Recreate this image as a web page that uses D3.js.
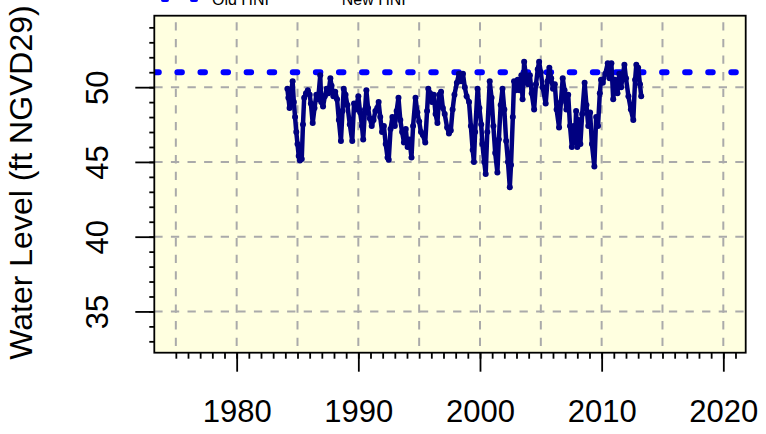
<!DOCTYPE html>
<html><head><meta charset="utf-8">
<script src="https://cdn.jsdelivr.net/npm/d3@7"></script>
<style>
body{margin:0;background:#fff}
svg{display:block}
text{font-family:"Liberation Sans",Arial,sans-serif;fill:#000}
</style>
</head><body>
<svg id="c" width="766" height="434"></svg>
<script>
// ---------------- data ----------------
const years = [
1984.17,1984.25,1984.35,1984.45,1984.6,1984.7,1984.8,1984.9,1985.0,1985.1,1985.2,1985.35,1985.45,1985.55,1985.7,1985.85,
1986.0,1986.1,1986.25,1986.4,1986.55,1986.7,1986.87,1986.95,1987.1,1987.25,1987.4,1987.55,1987.7,1987.8,1987.95,
1988.1,1988.25,1988.4,1988.57,1988.7,1988.8,1988.95,1989.1,1989.3,1989.5,1989.65,1989.8,
1990.0,1990.15,1990.3,1990.4,1990.55,1990.66,1990.8,1990.95,1991.1,1991.25,1991.4,1991.55,1991.67,1991.8,1991.95,
1992.1,1992.25,1992.4,1992.5,1992.65,1992.8,1993.0,1993.15,1993.3,1993.45,1993.6,1993.75,1993.9,
1994.05,1994.2,1994.37,1994.5,1994.7,1994.85,1995.0,1995.15,1995.3,1995.5,1995.65,1995.75,1995.9,
1996.05,1996.2,1996.35,1996.5,1996.65,1996.8,1996.95,1997.1,1997.3,1997.45,1997.6,1997.75,1997.9,
1998.1,1998.27,1998.45,1998.6,1998.75,1998.9,1999.1,1999.25,1999.4,1999.5,1999.6,1999.8,1999.95,
2000.1,2000.2,2000.35,2000.47,2000.6,2000.8,2000.95,2001.1,2001.25,2001.43,2001.55,2001.7,2001.85,
2002.0,2002.15,2002.3,2002.45,2002.55,2002.7,2002.8,2002.95,2003.1,2003.25,2003.4,2003.5,2003.63,2003.8,2003.95,
2004.1,2004.25,2004.45,2004.6,2004.75,2004.86,2005.0,2005.15,2005.4,2005.55,2005.7,2005.85,
2006.0,2006.15,2006.3,2006.5,2006.65,2006.8,2006.95,2007.1,2007.25,2007.4,2007.55,2007.7,2007.8,2007.9,
2008.0,2008.1,2008.25,2008.4,2008.6,2008.75,2008.9,2009.05,2009.2,2009.4,2009.55,2009.7,2009.85,2009.95,
2010.1,2010.3,2010.5,2010.65,2010.8,2010.95,2011.1,2011.3,2011.45,2011.6,2011.87,
2012.0,2012.2,2012.4,2012.6,2012.75,2012.85,2013.0,2013.15,2013.25
];
const levels = [
49.9,49.3,48.6,49.5,50.4,49.0,48.0,47.0,46.2,45.4,45.1,45.2,47.5,49.3,49.6,49.8,
49.5,48.9,47.6,48.6,49.5,49.2,50.8,49.0,48.7,49.4,49.9,49.6,50.6,50.1,49.4,
49.7,49.2,47.8,46.4,48.4,49.9,49.5,48.8,47.5,46.4,48.9,48.5,
49.4,48.3,47.4,46.5,48.5,49.8,48.6,47.9,47.4,47.8,48.4,48.6,49.0,48.0,47.0,
47.4,46.2,45.3,45.15,47.2,48.0,47.4,48.4,49.3,47.8,47.0,46.3,47.2,
46.0,46.5,45.3,47.4,49.3,48.3,47.7,47.0,46.8,46.3,48.4,49.9,49.6,
49.0,49.5,48.2,47.6,49.5,49.7,48.6,48.2,47.3,46.9,47.1,48.5,49.5,
50.3,50.9,50.4,50.9,50.0,49.4,49.0,47.4,45.8,45.0,47.0,49.9,48.6,
47.5,46.2,45.0,44.2,47.0,50.4,49.3,47.4,45.6,44.3,46.5,48.8,49.9,
48.5,46.4,45.0,43.3,44.8,48.0,50.4,49.8,50.5,49.8,50.8,49.2,51.7,50.6,50.2,
50.8,49.6,48.5,50.2,51.2,51.7,51.0,50.0,48.9,50.4,51.3,50.6,
49.9,50.2,48.5,47.3,49.0,50.6,49.8,48.5,49.5,47.4,46.0,47.4,46.3,48.4,
46.0,47.8,46.2,48.2,50.3,48.8,47.4,48.3,46.2,44.7,48.0,47.4,49.6,50.5,
50.3,50.9,51.6,50.6,51.6,49.2,50.5,49.6,50.9,50.0,51.5,
50.6,49.4,48.5,47.8,50.5,51.5,51.3,50.2,49.4
];
const oldHNI = 51;
const legendLabels = ["Old HNI", "New HNI"];
const yTitle = "Water Level (ft NGVD29)";
const xMajorTicks = [1980, 1990, 2000, 2010, 2020];
const xMinorTicks = d3.range(1975, 2022);
const xGridTicks = d3.range(1975, 2021, 5);
const yMajorTicks = [35, 40, 45, 50];
const yMinorTicks = d3.range(33, 55);

// ---------------- layout ----------------
const L = 154.3, R = 745.7, T = 15.7, B = 352.7;
const svg = d3.select("#c");
const x = d3.scaleLinear().domain([1973.23, 2021.84]).range([L, R]);
const y = d3.scaleLinear().domain([32.24, 54.78]).range([B, T]);

svg.append("defs").append("clipPath").attr("id","clip")
  .append("rect").attr("x",L).attr("y",T).attr("width",R-L).attr("height",B-T);

// background
svg.append("rect").attr("x",L).attr("y",T).attr("width",R-L).attr("height",B-T)
  .attr("fill","#FFFFE0");

const plot = svg.append("g").attr("clip-path","url(#clip)");

// grid
plot.selectAll("line.vg").data(xGridTicks).enter().append("line")
  .attr("x1",d=>x(d)).attr("x2",d=>x(d)).attr("y1",T).attr("y2",B)
  .attr("stroke","#aaaaaa").attr("stroke-width",2)
  .attr("stroke-dasharray","8.3,8.3").attr("stroke-dashoffset",10);
plot.selectAll("line.hg").data(yMajorTicks).enter().append("line")
  .attr("x1",L).attr("x2",R).attr("y1",d=>y(d)).attr("y2",d=>y(d))
  .attr("stroke","#aaaaaa").attr("stroke-width",2)
  .attr("stroke-dasharray","8.3,8.3").attr("stroke-dashoffset",0);

// Old HNI line
plot.append("line").attr("x1",L).attr("x2",R).attr("y1",y(oldHNI)).attr("y2",y(oldHNI))
  .attr("stroke","#0000FF").attr("stroke-width",6).attr("stroke-linecap","round")
  .attr("stroke-dasharray","4.5,18.58");

// series
const pts = years.map((d,i)=>[d, levels[i]]);
plot.append("path").datum(pts)
  .attr("d", d3.line().x(d=>x(d[0])).y(d=>y(d[1])))
  .attr("fill","none").attr("stroke","#000080").attr("stroke-width",4.5)
  .attr("stroke-linejoin","round").attr("stroke-linecap","round");
plot.selectAll("circle").data(pts).enter().append("circle")
  .attr("cx",d=>x(d[0])).attr("cy",d=>y(d[1])).attr("r",3).attr("fill","#000080");

// box
svg.append("rect").attr("x",L).attr("y",T).attr("width",R-L).attr("height",B-T)
  .attr("fill","none").attr("stroke","#000").attr("stroke-width",1.8);

// x axis
const gxMin = svg.append("g").attr("transform",`translate(0,${B})`)
  .call(d3.axisBottom(x).tickValues(xMinorTicks).tickSize(6).tickFormat(""));
const gx = svg.append("g").attr("transform",`translate(0,${B})`)
  .call(d3.axisBottom(x).tickValues(xMajorTicks).tickSize(19).tickFormat(d3.format("d")));
[gxMin, gx].forEach(g=>{
  g.select(".domain").remove();
  g.selectAll(".tick line").attr("stroke","#000").attr("stroke-width",1.8);
});
gx.selectAll(".tick text").attr("y", 421.7 - B).attr("dy", null)
  .attr("font-size", 31).attr("fill","#000");

// y axis
const gyMin = svg.append("g").attr("transform",`translate(${L},0)`)
  .call(d3.axisLeft(y).tickValues(yMinorTicks).tickSize(5).tickFormat(""));
const gy = svg.append("g").attr("transform",`translate(${L},0)`)
  .call(d3.axisLeft(y).tickValues(yMajorTicks).tickSize(19).tickFormat(d3.format("d")));
[gyMin, gy].forEach(g=>{
  g.select(".domain").remove();
  g.selectAll(".tick line").attr("stroke","#000").attr("stroke-width",1.8);
});
gy.selectAll(".tick text")
  .attr("transform","rotate(-90)")
  .attr("x",0).attr("y",108.3 - L).attr("dy",null).attr("dx",null)
  .attr("text-anchor","middle").attr("font-size",31).attr("fill","#000");

// y title
svg.append("text").attr("transform","translate(32,182.5) rotate(-90)")
  .attr("text-anchor","middle").attr("font-size",32).text(yTitle);

// legend (cut off at top, as in the reference)
svg.append("line").attr("x1",163).attr("x2",200).attr("y1",0).attr("y2",0)
  .attr("stroke","#0000FF").attr("stroke-width",4).attr("stroke-linecap","round")
  .attr("stroke-dasharray","4,25");
svg.selectAll("text.leg").data(legendLabels).enter().append("text")
  .attr("class","leg").attr("x",(d,i)=> i===0 ? 212 : 341.7).attr("y",4.5)
  .attr("font-size",16).text(d=>d);
</script>
</body></html>
